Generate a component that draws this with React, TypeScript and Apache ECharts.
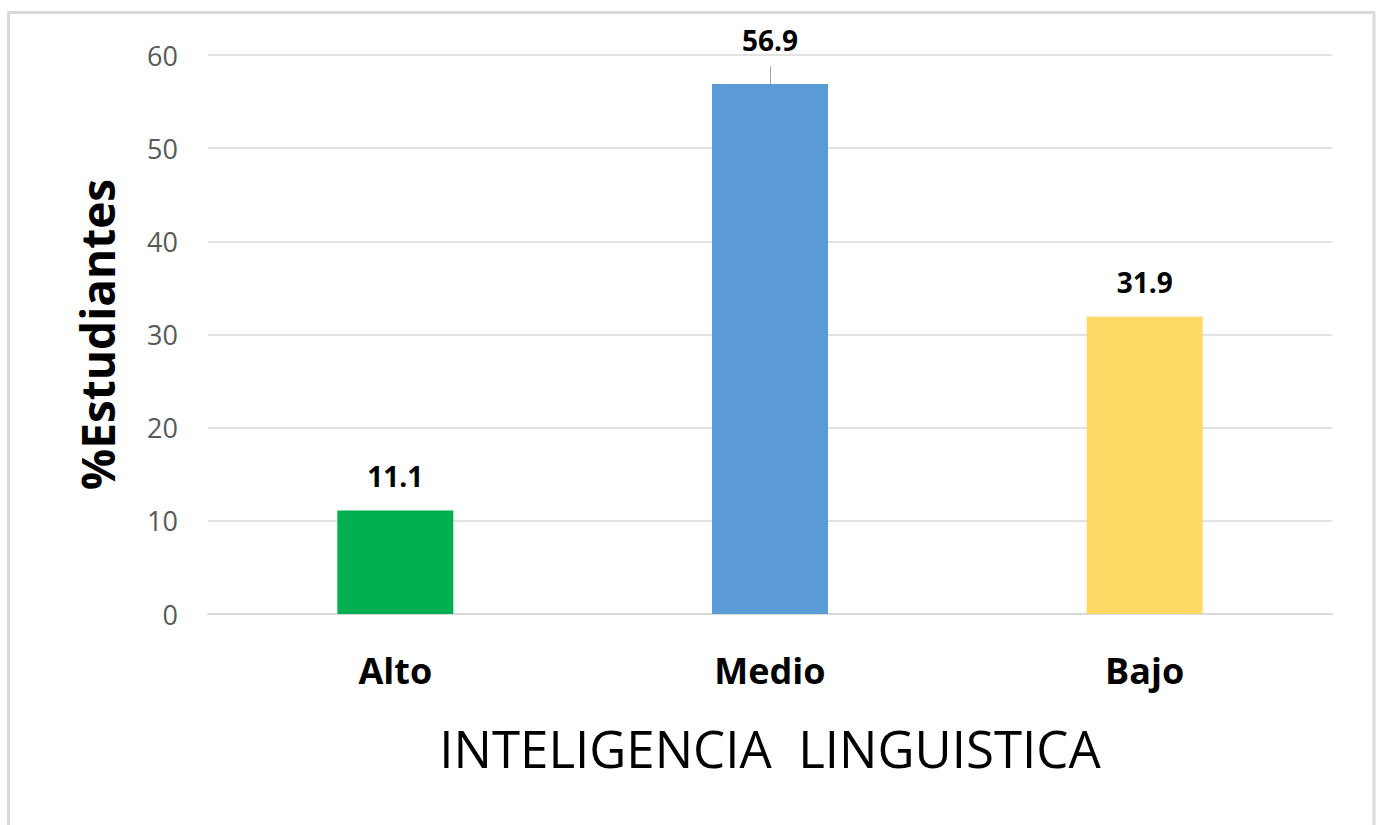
import React, { useEffect, useRef } from "react";
import * as echarts from "echarts";

const categories = ["Alto", "Medio", "Bajo"];
const values = [11.1, 56.9, 31.9];
const barColors = ["#00B050", "#5B9BD5", "#FFD966"];
const yTicks = [0, 10, 20, 30, 40, 50, 60];
const leaderCategory = "Medio";
const leaderTop = 58.8;
const xAxisTitle = "INTELIGENCIA  LINGUISTICA";
const yAxisTitle = "%Estudiantes";

export default function App() {
  const ref = useRef<HTMLDivElement>(null);
  useEffect(() => {
    if (!ref.current) return;
    const chart = echarts.init(ref.current, undefined, { renderer: "svg" });
    const font = "'Open Sans', 'Noto Sans', sans-serif";
    chart.setOption({
      animation: false,
      backgroundColor: "#ffffff",
      textStyle: { fontFamily: font },
      graphic: [
        {
          type: "rect",
          shape: { x: 8.5, y: 12.5, width: 1365.5, height: 840 },
          style: { fill: "none", stroke: "#d9d9d9", lineWidth: 3 },
          silent: true,
          z: -1,
        },
      ],
      grid: { left: 208, right: 49, top: 55, bottom: 211, containLabel: false },
      xAxis: {
        type: "category",
        data: categories,
        axisLine: { show: true, lineStyle: { color: "#d9d9d9", width: 2 } },
        axisTick: { show: false },
        axisLabel: {
          color: "#000000",
          fontWeight: "bold",
          fontSize: 36,
          fontFamily: font,
          margin: 38,
        },
        name: xAxisTitle,
        nameLocation: "middle",
        nameGap: 108,
        nameTextStyle: { color: "#000000", fontSize: 51, fontFamily: font },
      },
      yAxis: {
        type: "value",
        min: yTicks[0],
        max: yTicks[yTicks.length - 1],
        interval: 10,
        axisLine: { show: false },
        axisTick: { show: false },
        splitLine: { lineStyle: { color: "#d9d9d9", width: 1.5 } },
        axisLabel: { color: "#595959", fontSize: 27, fontFamily: font, margin: 30 },
        name: yAxisTitle,
        nameLocation: "middle",
        nameGap: 88,
        nameTextStyle: { color: "#000000", fontSize: 46, fontWeight: "bold", fontFamily: font },
      },
      series: [
        {
          type: "bar",
          barWidth: 116,
          data: values.map((v, i) => ({
            value: v,
            itemStyle: { color: barColors[i] },
            label: categories[i] === leaderCategory ? { distance: 30 } : undefined,
          })),
          label: {
            show: true,
            position: "top",
            distance: 21,
            color: "#000000",
            fontWeight: "bold",
            fontSize: 28,
            fontFamily: font,
            formatter: (p: any) => Number(p.value).toFixed(1),
          },
          markLine: {
            silent: true,
            symbol: "none",
            label: { show: false },
            lineStyle: { color: "#a6a6a6", width: 1, type: "solid" },
            data: [
              [
                { coord: [leaderCategory, values[categories.indexOf(leaderCategory)]] },
                { coord: [leaderCategory, leaderTop] },
              ],
            ],
          },
        },
      ],
    });
    return () => chart.dispose();
  }, []);
  return (
    <div
      ref={ref}
      style={{ position: "fixed", left: 0, top: 0, width: 1381, height: 825 }}
    />
  );
}
